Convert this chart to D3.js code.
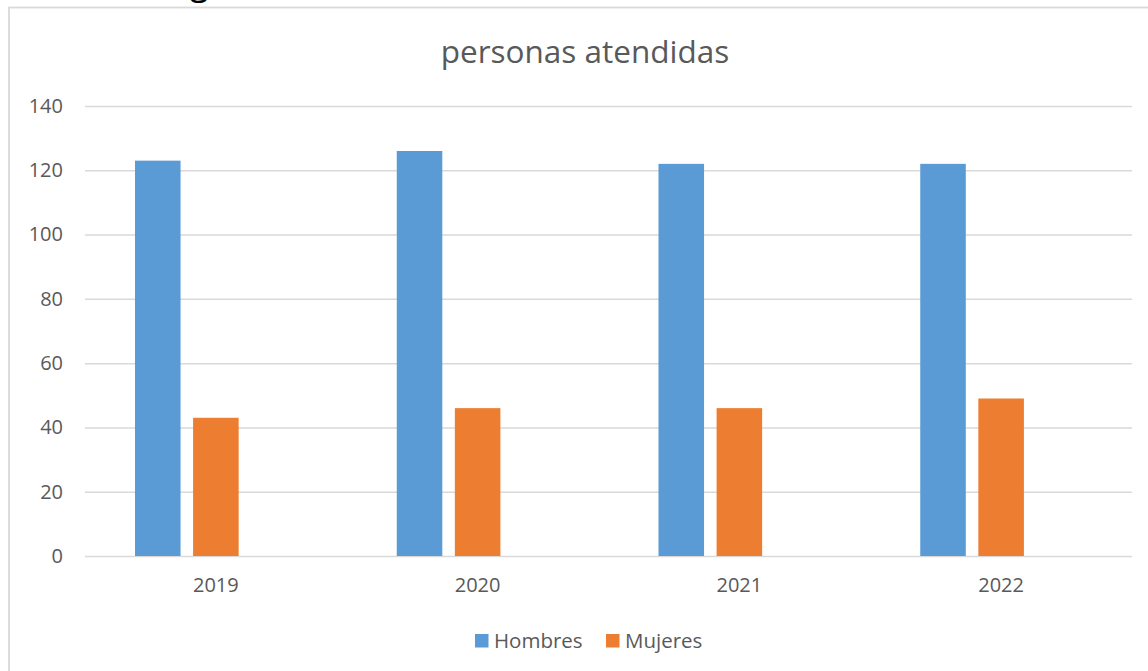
<!DOCTYPE html>
<html><head><meta charset="utf-8">
<script src="https://cdn.jsdelivr.net/npm/d3@7"></script>
<style>
html,body{margin:0;padding:0;background:#fff;overflow:hidden}
svg{display:block}
text{font-family:"Open Sans",sans-serif}
</style></head>
<body>
<script>
const categories = ["2019","2020","2021","2022"];
const hombres = [123,126,122,122];
const mujeres = [43,46,46,49];
const seriesNames = ["Hombres","Mujeres"];
const yTicks = [0,20,40,60,80,100,120,140];
const title = "personas atendidas";

(function(){
const W = 1148, H = 671;
const svg = d3.select("body").append("svg").attr("width",W).attr("height",H);

// heading fragment cut off at top of the page (only the descender shows)
svg.append("text").attr("x",190).attr("y",-5).attr("font-family","'Open Sans', sans-serif")
  .attr("font-size",34).attr("fill","#000").text("g");

// chart border
svg.append("rect").attr("x",9).attr("y",7.5).attr("width",W+10).attr("height",H+10)
  .attr("fill","#fff").attr("stroke","#d9d9d9").attr("stroke-width",1.8);

const pLeft = 85, pRight = 1132, pTop = 106, pBottom = 556;
const y = d3.scaleLinear().domain([0,140]).range([pBottom,pTop]);
const x0 = d3.scaleBand().domain(categories).range([pLeft,pRight]).paddingInner(0).paddingOuter(0);
const groupKeys = ["Hombres","Mujeres","_"];
const x1 = d3.scaleBand().domain(groupKeys).range([50, x0.bandwidth()-50]).paddingInner(0.216).paddingOuter(0);

// gridlines
const yAxis = d3.axisLeft(y).tickValues(yTicks).tickSize(-(pRight-pLeft)).tickPadding(22);
const ga = svg.append("g").attr("transform",`translate(${pLeft},0)`).call(yAxis);
ga.select(".domain").remove();
ga.selectAll(".tick line").attr("stroke","#d9d9d9").attr("stroke-width",1.5);
ga.selectAll(".tick text").attr("fill","#595959").attr("font-size",20).attr("font-family","'Open Sans',sans-serif");

// bars
const colors = {Hombres:"#5B9BD5", Mujeres:"#ED7D31"};
const rows = categories.map((c,i)=>({cat:c, Hombres:hombres[i], Mujeres:mujeres[i]}));
const g = svg.append("g");
rows.forEach(r=>{
  seriesNames.forEach(s=>{
    g.append("rect")
      .attr("x", x0(r.cat)+x1(s))
      .attr("y", y(r[s]))
      .attr("width", x1.bandwidth())
      .attr("height", y(0)-y(r[s]))
      .attr("fill", colors[s]);
  });
});

// x axis
const xAxis = d3.axisBottom(x0).tickSize(0).tickPadding(22);
const gx = svg.append("g").attr("transform",`translate(0,${pBottom})`).call(xAxis);
gx.select(".domain").remove();
gx.selectAll(".tick text").attr("fill","#595959").attr("font-size",20).attr("font-family","'Open Sans',sans-serif");

// title
svg.append("text").attr("x",585).attr("y",63).attr("text-anchor","middle")
  .attr("fill","#595959").attr("font-size",31.5).text(title);

// legend
const legendItems = [{name:"Hombres",x:475},{name:"Mujeres",x:606}];
legendItems.forEach(l=>{
  svg.append("rect").attr("x",l.x).attr("y",634).attr("width",13.5).attr("height",13.5).attr("fill",colors[l.name]);
  svg.append("text").attr("x",l.x+19).attr("y",648).attr("fill","#595959").attr("font-size",20.5).text(l.name);
});
})();
</script>
</body></html>
